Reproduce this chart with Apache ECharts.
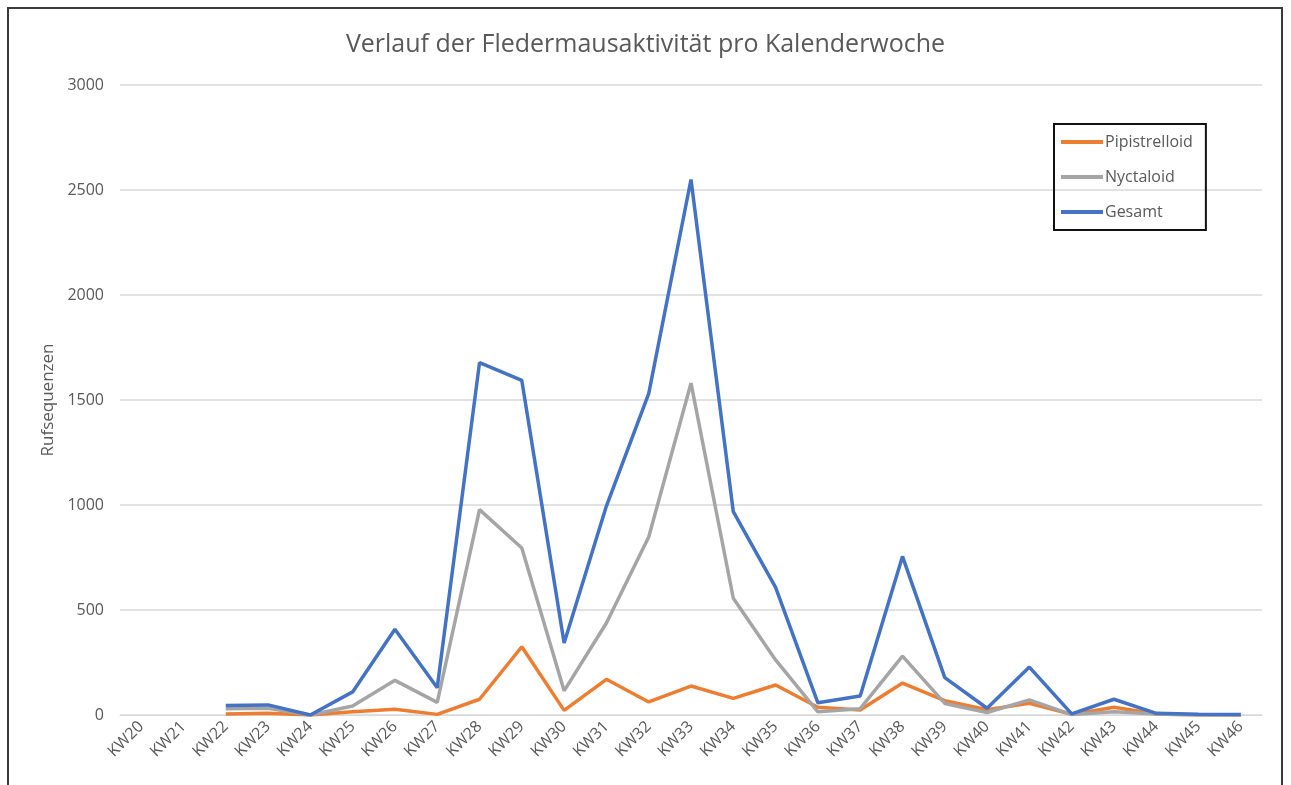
<!DOCTYPE html>
<html><head><meta charset="utf-8">
<script src="https://cdn.jsdelivr.net/npm/echarts@6/dist/echarts.min.js"></script>
<style>
html,body{margin:0;padding:0;background:#fff;overflow:hidden;}
#frame{position:absolute;left:7px;top:7px;width:1276px;height:820px;border:2px solid #3a3a3a;box-sizing:border-box;}
#chart{position:absolute;left:0;top:0;width:1291px;height:785px;}
</style></head>
<body>
<div id="frame"></div>
<div id="chart"></div>
<script>
const categories = ['KW20','KW21','KW22','KW23','KW24','KW25','KW26','KW27','KW28','KW29','KW30','KW31','KW32','KW33','KW34','KW35','KW36','KW37','KW38','KW39','KW40','KW41','KW42','KW43','KW44','KW45','KW46'];
const pipistrelloid = [null,null,5,8,0,15,27,3,75,325,22,170,62,138,79,143,37,24,152,68,25,56,3,37,5,0,0];
const nyctaloid     = [null,null,30,32,0,43,165,60,978,795,115,438,848,1580,556,262,15,30,280,55,12,72,2,15,5,0,0];
const gesamt        = [null,null,45,48,0,110,408,130,1678,1593,343,995,1530,2550,968,608,58,90,755,178,32,228,5,75,8,3,2];
const yTicks = {min:0, max:3000, interval:500};
const titleText = 'Verlauf der Fledermausaktivität pro Kalenderwoche';
const yName = 'Rufsequenzen';

const font = '"Open Sans", sans-serif';
const txt = '#595959';
const chart = echarts.init(document.getElementById('chart'));
function line(name, data, color){
  return {name, type:'line', data, symbol:'none', connectNulls:false,
    lineStyle:{width:3.5, color}, itemStyle:{color}};
}
chart.setOption({
  animation:false,
  title:{text:titleText, left:'center', top:27, textStyle:{fontFamily:font, fontSize:25, fontWeight:'normal', color:txt}},
  legend:{orient:'vertical', left:1054, top:124,
    data:['Pipistrelloid','Nyctaloid','Gesamt'],
    icon:'rect', itemWidth:42, itemHeight:4, itemGap:19,
    borderColor:'#111', borderWidth:2, padding:[10,13,10,7],
    textStyle:{fontFamily:font, fontSize:16, color:txt, padding:[0,0,0,-3]}},
  grid:{left:120, right:29, top:85, bottom:70},
  xAxis:{type:'category', data:categories, boundaryGap:true,
    axisLine:{show:true, lineStyle:{color:'#d9d9d9', width:1}},
    axisTick:{show:false},
    axisLabel:{rotate:45, fontFamily:font, fontSize:16, color:txt, margin:9, interval:0}},
  yAxis:{type:'value', min:yTicks.min, max:yTicks.max, interval:yTicks.interval,
    name:yName, nameLocation:'middle', nameGap:63, nameRotate:90,
    nameTextStyle:{fontFamily:font, fontSize:17, color:txt},
    axisLine:{show:false}, axisTick:{show:false},
    axisLabel:{fontFamily:font, fontSize:16, color:txt, margin:16, formatter:v=>String(v)},
    splitLine:{lineStyle:{color:'#d9d9d9', width:1.5}}},
  series:[
    line('Pipistrelloid', pipistrelloid, '#ED7D31'),
    line('Nyctaloid', nyctaloid, '#A5A5A5'),
    line('Gesamt', gesamt, '#4472C4')
  ]
});
</script>
</body></html>
